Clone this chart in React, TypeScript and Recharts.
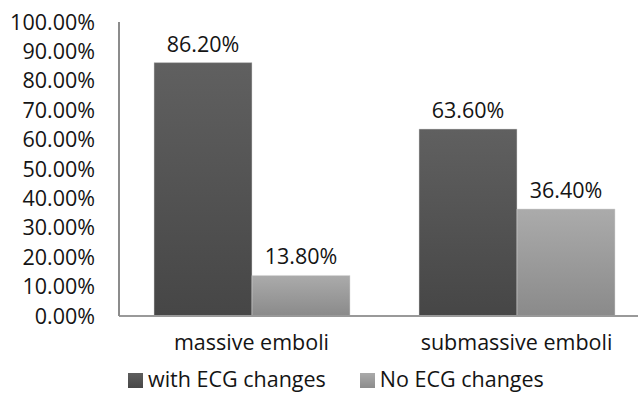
import React from "react";
import { BarChart, Bar, XAxis, YAxis, Legend, LabelList } from "recharts";

const categories = ["massive emboli", "submassive emboli"];
const withEcg = [86.2, 63.6];
const noEcg = [13.8, 36.4];
const yTicks = [0, 10, 20, 30, 40, 50, 60, 70, 80, 90, 100];

const data = categories.map((c, i) => ({ name: c, withEcg: withEcg[i], noEcg: noEcg[i] }));

const FONT = "'Open Sans', sans-serif";
const FS = 21.5;
const TXT = "#141414";
const fmt = (v: number) => `${v.toFixed(2)}%`;

const LegendContent = () => (
  <div
    style={{
      height: 24,
      position: "relative",
      top: -4,
      display: "flex",
      alignItems: "center",
      paddingLeft: 128,
      fontFamily: FONT,
      fontSize: FS,
      lineHeight: "21px",
      color: TXT,
      whiteSpace: "nowrap",
    }}
  >
    <span style={{ display: "inline-block", width: 15, height: 15, background: "linear-gradient(#5e5e5e,#474747)", marginRight: 5, position: "relative", top: 2 }} />
    <span style={{ marginRight: 34 }}>with ECG changes</span>
    <span style={{ display: "inline-block", width: 15, height: 15, background: "linear-gradient(#aaaaaa,#8c8c8c)", marginRight: 5, position: "relative", top: 2 }} />
    <span>No ECG changes</span>
  </div>
);

export default function App() {
  return (
    <div style={{ position: "absolute", left: 0, top: 0, width: 638, height: 394, overflow: "hidden", background: "#fff" }}>
      <BarChart
        width={660}
        height={394}
        data={data}
        margin={{ top: 22, right: 11, bottom: 0, left: 0 }}
        barCategoryGap={35}
        barGap={0}
      >
        <defs>
          <linearGradient id="gDark" x1="0" y1="0" x2="0" y2="1">
            <stop offset="0%" stopColor="#606060" />
            <stop offset="100%" stopColor="#464646" />
          </linearGradient>
          <linearGradient id="gLight" x1="0" y1="0" x2="0" y2="1">
            <stop offset="0%" stopColor="#ababab" />
            <stop offset="100%" stopColor="#8a8a8a" />
          </linearGradient>
        </defs>
        <XAxis
          dataKey="name"
          height={54}
          tickLine={false}
          tickSize={0}
          tickMargin={19}
          axisLine={{ stroke: "#999999", strokeWidth: 2 }}
          tick={{ fill: TXT, fontSize: FS, fontFamily: FONT }}
        />
        <YAxis
          width={119}
          domain={[0, 100]}
          ticks={yTicks}
          interval={0}
          tickLine={false}
          tickSize={0}
          tickMargin={24}
          tickFormatter={fmt}
          axisLine={{ stroke: "#8c8c8c", strokeWidth: 2 }}
          tick={{ fill: TXT, fontSize: FS, fontFamily: FONT }}
        />
        <Legend verticalAlign="bottom" align="left" content={<LegendContent />} />
        <Bar dataKey="withEcg" fill="url(#gDark)" stroke="#d8d8d8" strokeWidth={0.5} isAnimationActive={false}>
          <LabelList dataKey="withEcg" position="top" offset={11} formatter={(v: number) => fmt(v)} style={{ fill: TXT, fontSize: FS, fontFamily: FONT }} />
        </Bar>
        <Bar dataKey="noEcg" fill="url(#gLight)" stroke="#d8d8d8" strokeWidth={0.5} isAnimationActive={false}>
          <LabelList dataKey="noEcg" position="top" offset={11} formatter={(v: number) => fmt(v)} style={{ fill: TXT, fontSize: FS, fontFamily: FONT }} />
        </Bar>
      </BarChart>
    </div>
  );
}
